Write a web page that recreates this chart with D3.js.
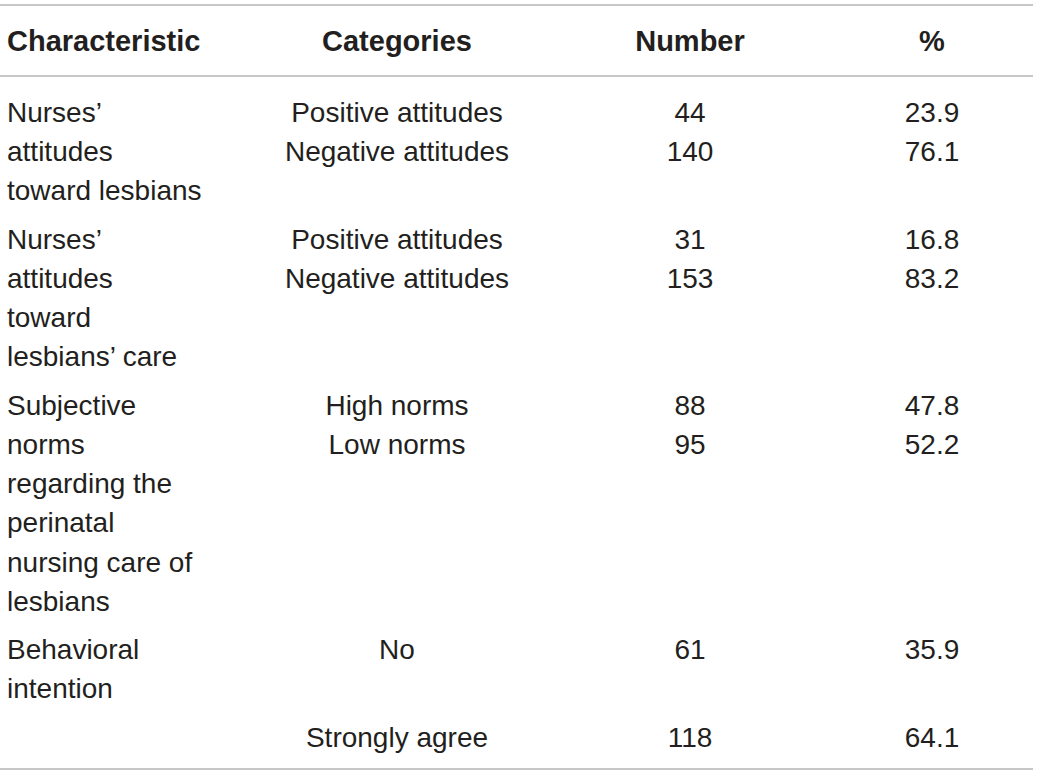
<!DOCTYPE html>
<html>
<head>
<meta charset="utf-8">
<script src="https://cdn.jsdelivr.net/npm/d3@7"></script>
<style>
  body { margin: 0; background: #fff; }
  svg text { font-family: "Liberation Sans", Arial, sans-serif; fill: #231f20; }
</style>
</head>
<body>
<svg id="table" width="1039" height="777"></svg>
<script>
// table content
const headers = ["Characteristic", "Categories", "Number", "%"];
const characteristics = [
  ["Nurses’", "attitudes", "toward lesbians"],
  ["Nurses’", "attitudes", "toward", "lesbians’ care"],
  ["Subjective", "norms", "regarding the", "perinatal", "nursing care of", "lesbians"],
  ["Behavioral", "intention"],
  []
];
const categories = [
  ["Positive attitudes", "Negative attitudes"],
  ["Positive attitudes", "Negative attitudes"],
  ["High norms", "Low norms"],
  ["No"],
  ["Strongly agree"]
];
const numbers = [["44", "140"], ["31", "153"], ["88", "95"], ["61"], ["118"]];
const percents = [["23.9", "76.1"], ["16.8", "83.2"], ["47.8", "52.2"], ["35.9"], ["64.1"]];

// layout
const fontSize = 28, headSize = 29, lineH = 39.25, groupGap = 9, firstRowY = 112;
const colX = [7, 397, 690, 932];
const colAnchor = ["start", "middle", "middle", "middle"];

const svg = d3.select("#table");

function rule(y) {
  svg.append("line")
    .attr("x1", 0).attr("x2", 1033)
    .attr("y1", y).attr("y2", y)
    .attr("stroke", "#b4b4b4")
    .attr("stroke-width", 1.6);
}
rule(5);
rule(76);
rule(769);

svg.append("g").selectAll("text")
  .data(headers)
  .enter().append("text")
  .attr("x", (d, i) => colX[i])
  .attr("y", 41)
  .attr("dy", ".35em")
  .attr("text-anchor", (d, i) => colAnchor[i])
  .attr("font-weight", "bold")
  .attr("font-size", headSize)
  .text(d => d);

// compute the starting y of each group
let groupY = [], y = firstRowY;
characteristics.forEach(function(c, i) {
  groupY.push(y);
  let n = Math.max(c.length, categories[i].length, 1);
  y += n * lineH + groupGap;
});

const cols = [characteristics, categories, numbers, percents];
let cells = [];
cols.forEach(function(col, ci) {
  col.forEach(function(lines, gi) {
    lines.forEach(function(t, li) {
      cells.push({ text: t, col: ci, y: groupY[gi] + li * lineH });
    });
  });
});

svg.append("g").selectAll("text")
  .data(cells)
  .enter().append("text")
  .attr("x", d => colX[d.col])
  .attr("y", d => d.y)
  .attr("dy", ".35em")
  .attr("text-anchor", d => colAnchor[d.col])
  .attr("font-size", fontSize)
  .text(d => d.text);
</script>
</body>
</html>
